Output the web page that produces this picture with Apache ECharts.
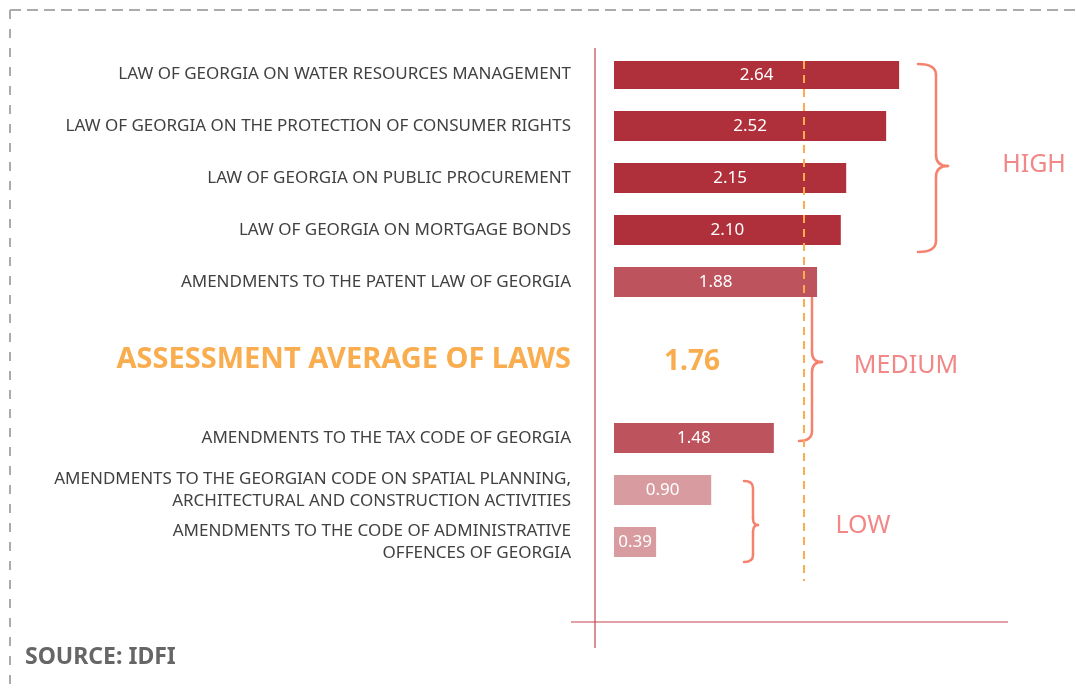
<!DOCTYPE html>
<html>
<head>
<meta charset="utf-8">
<script src="https://cdn.jsdelivr.net/npm/echarts@6/dist/echarts.min.js"></script>
<style>
html,body{margin:0;padding:0;background:#fff;}
#chart{width:1076px;height:690px;}
</style>
</head>
<body>
<div id="chart"></div>
<script>
// ---- data ----
const laws = [
  'LAW OF GEORGIA ON WATER RESOURCES MANAGEMENT',
  'LAW OF GEORGIA ON THE PROTECTION OF CONSUMER RIGHTS',
  'LAW OF GEORGIA ON PUBLIC PROCUREMENT',
  'LAW OF GEORGIA ON MORTGAGE BONDS',
  'AMENDMENTS TO THE PATENT LAW OF GEORGIA',
  'AMENDMENTS TO THE TAX CODE OF GEORGIA',
  'AMENDMENTS TO THE GEORGIAN CODE ON SPATIAL PLANNING,\nARCHITECTURAL AND CONSTRUCTION ACTIVITIES',
  'AMENDMENTS TO THE CODE OF ADMINISTRATIVE\nOFFENCES OF GEORGIA'
];
const scores = [2.64, 2.52, 2.15, 2.10, 1.88, 1.48, 0.90, 0.39];
const levels = ['HIGH', 'HIGH', 'HIGH', 'HIGH', 'MEDIUM', 'MEDIUM', 'LOW', 'LOW'];
const averageLabel = 'ASSESSMENT AVERAGE OF LAWS';
const averageValue = 1.76;
const averageBefore = 5;           // average row sits before this law
const levelNames = ['HIGH', 'MEDIUM', 'LOW'];
const sourceText = 'SOURCE: IDFI';

// ---- styles ----
const FONT = '"Noto Sans", "Open Sans", sans-serif';
const levelColors = { HIGH: '#af2f3a', MEDIUM: '#bd535c', LOW: '#d89ba0' };
const ORANGE = '#f9ad4f';
const BRACE = '#f4826e';
const LEVEL_TEXT = '#f28787';

// ---- build category slots (spacers between rows) ----
const rows = [];
laws.forEach((name, i) => {
  if (i === averageBefore) rows.push({ name: averageLabel, avg: true });
  rows.push({ name, value: scores[i], level: levels[i] });
});
const slots = [];
let sp = 0;
rows.forEach((r, i) => {
  if (i > 0) {
    const gap = (r.avg || rows[i - 1].avg) ? 3 : 2;
    for (let k = 1; k < gap; k++) slots.push({ name: '__s' + (sp++) });
  }
  slots.push(r);
});
slots.push({ name: '__s' + (sp++) });

const barData = slots.map(s => (s.value != null)
  ? { value: s.value, itemStyle: { color: levelColors[s.level] } } : '-');
const avgData = slots.map(s => s.avg ? averageValue : '-');

// curly brace made of lines and quadratic curves
function brace(xEnd, xV, xTip, yTop, yMid, yBot, r) {
  const st = { stroke: BRACE, lineWidth: 2.5, fill: null, lineCap: 'round' };
  const q = (x1, y1, cx, cy, x2, y2) => ({ type: 'bezierCurve', silent: true,
    shape: { x1, y1, cpx1: cx, cpy1: cy, x2, y2 }, style: st });
  const l = (x1, y1, x2, y2) => ({ type: 'line', silent: true, shape: { x1, y1, x2, y2 }, style: st });
  return [
    q(xEnd, yTop, xV, yTop, xV, yTop + r),
    l(xV, yTop + r, xV, yMid - r),
    q(xV, yMid - r, xV, yMid, xTip, yMid),
    q(xTip, yMid, xV, yMid, xV, yMid + r),
    l(xV, yMid + r, xV, yBot - r),
    q(xV, yBot - r, xV, yBot, xEnd, yBot)
  ];
}

const chart = echarts.init(document.getElementById('chart'), null, { renderer: 'canvas' });

const GRID_TOP = 61, SLOT = 26;

chart.setOption({
  backgroundColor: '#ffffff',
  animation: false,
  textStyle: { fontFamily: FONT },
  grid: { left: 614, width: 432, top: GRID_TOP, height: slots.length * SLOT },
  xAxis: { type: 'value', min: 0, max: 4, show: false },
  yAxis: {
    type: 'category',
    inverse: true,
    data: slots.map(s => s.name),
    axisLine: { show: false },
    axisTick: { show: false },
    splitLine: { show: false },
    axisLabel: {
      interval: 0,
      margin: 43,
      color: '#414141',
      fontSize: 17,
      lineHeight: 22,
      fontFamily: FONT,
      align: 'right',
      formatter: v => v.startsWith('__s') ? '' : (v === averageLabel ? '{avg|' + v + '}' : v),
      rich: {
        avg: { fontSize: 29, fontWeight: 'bold', color: ORANGE, fontFamily: FONT, lineHeight: 34 }
      }
    }
  },
  series: [
    {
      type: 'bar',
      data: barData,
      barWidth: 30,
      barGap: '-100%',
      label: {
        show: true,
        position: 'inside',
        color: '#ffffff',
        fontSize: 17,
        fontFamily: FONT,
        formatter: p => Number(p.value).toFixed(2)
      }
    },
    {
      type: 'bar',
      data: avgData,
      barWidth: 30,
      barGap: '-100%',
      itemStyle: { color: 'rgba(0,0,0,0)' },
      label: {
        show: true,
        position: 'insideLeft',
        offset: [45, 2],
        color: ORANGE,
        fontSize: 28,
        fontWeight: 'bold',
        fontFamily: FONT,
        formatter: p => Number(p.value).toFixed(2)
      },
      markLine: {
        silent: true,
        symbol: ['none', 'none'],
        label: { show: false },
        lineStyle: { color: ORANGE, width: 2, type: [8, 6] },
        data: [{ xAxis: averageValue }]
      }
    }
  ],
  graphic: [
    // dashed frame
    { type: 'line', silent: true, shape: { x1: 10, y1: 10, x2: 1076, y2: 10 }, style: { stroke: '#ababab', lineWidth: 2, lineDash: [11, 6] } },
    { type: 'line', silent: true, shape: { x1: 10, y1: 10, x2: 10, y2: 690 }, style: { stroke: '#ababab', lineWidth: 2, lineDash: [9, 10] } },
    // axis lines
    { type: 'line', silent: true, shape: { x1: 595, y1: 48, x2: 595, y2: 648 }, style: { stroke: '#c4434e', lineWidth: 1.2 } },
    { type: 'line', silent: true, shape: { x1: 571, y1: 622, x2: 1008, y2: 622 }, style: { stroke: '#c4434e', lineWidth: 1.2 } },
    // braces
    ...brace(918, 936, 948, 64, 166, 252, 11),
    ...brace(799, 812, 822, 280, 362, 441, 10),
    ...brace(744, 753, 758, 481, 525, 562, 7),
    // level names
    { type: 'text', silent: true, x: 1034, y: 165, style: { text: levelNames[0], fill: LEVEL_TEXT, font: '25px ' + FONT, textAlign: 'center', textVerticalAlign: 'middle' } },
    { type: 'text', silent: true, x: 906, y: 366, style: { text: levelNames[1], fill: LEVEL_TEXT, font: '25px ' + FONT, textAlign: 'center', textVerticalAlign: 'middle' } },
    { type: 'text', silent: true, x: 863, y: 526, style: { text: levelNames[2], fill: LEVEL_TEXT, font: '25px ' + FONT, textAlign: 'center', textVerticalAlign: 'middle' } },
    // source
    { type: 'text', silent: true, x: 25, y: 657, style: { text: sourceText, fill: '#666666', font: 'bold 23px ' + FONT, textAlign: 'left', textVerticalAlign: 'middle' } }
  ]
});
</script>
</body>
</html>
